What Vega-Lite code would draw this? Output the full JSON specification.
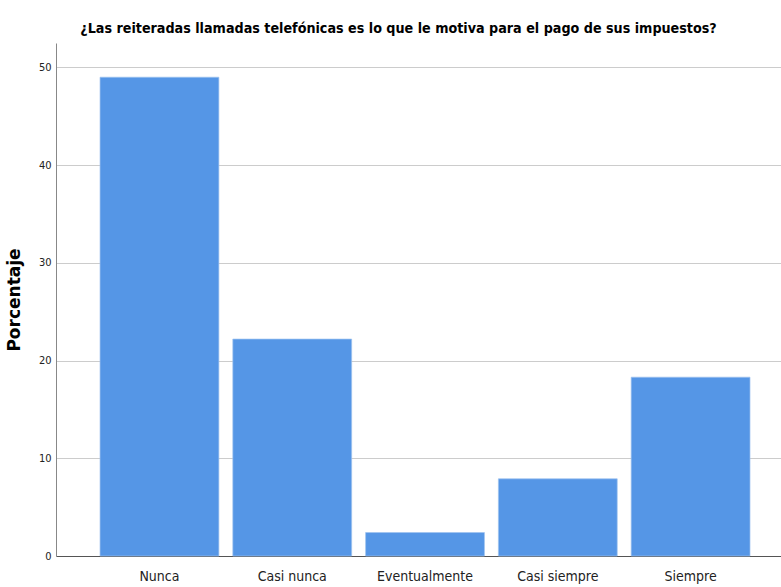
{
  "$schema": "https://vega.github.io/schema/vega-lite/v6.json",
  "width": 725,
  "height": 513,
  "autosize": "none",
  "padding": {"left": 56, "top": 43, "right": 0, "bottom": 31},
  "background": "white",
  "title": {
    "text": "¿Las reiteradas llamadas telefónicas es lo que le motiva para el pago de sus impuestos?",
    "font": "'DejaVu Sans Condensed', 'Liberation Sans', sans-serif",
    "fontSize": 14.2,
    "fontWeight": "bold",
    "color": "#000000",
    "anchor": "middle",
    "dx": -20,
    "offset": 7
  },
  "data": {
    "values": [
      {"categoria": "Nunca", "porcentaje": 49.0},
      {"categoria": "Casi nunca", "porcentaje": 22.2},
      {"categoria": "Eventualmente", "porcentaje": 2.4},
      {"categoria": "Casi siempre", "porcentaje": 7.9},
      {"categoria": "Siempre", "porcentaje": 18.3}
    ]
  },
  "mark": {"type": "bar", "color": "#5596e6", "stroke": "#9fc3ef", "strokeWidth": 0.7},
  "encoding": {
    "x": {
      "field": "categoria",
      "type": "nominal",
      "sort": null,
      "scale": {"paddingInner": 0.105, "paddingOuter": 0.2825, "align": 0.587},
      "axis": {
        "title": null,
        "labelAngle": 0,
        "labelFont": "'DejaVu Sans Condensed', 'Liberation Sans', sans-serif",
        "labelFontSize": 14,
        "labelColor": "#222222",
        "labelPadding": 13,
        "ticks": false,
        "domainColor": "#555555",
        "domainWidth": 1.2,
        "grid": false
      }
    },
    "y": {
      "field": "porcentaje",
      "type": "quantitative",
      "scale": {"domain": [0, 52.5], "nice": false},
      "axis": {
        "title": "Porcentaje",
        "titleFont": "'DejaVu Sans', sans-serif",
        "titleFontSize": 17,
        "titleFontWeight": "bold",
        "titleColor": "#000000",
        "titlePadding": 15,
        "values": [0, 10, 20, 30, 40, 50],
        "labelFont": "'DejaVu Sans Condensed', 'Liberation Sans', sans-serif",
        "labelFontSize": 11,
        "labelColor": "#222222",
        "labelPadding": 5,
        "ticks": false,
        "domainColor": "#888888",
        "grid": true,
        "gridColor": "#cccccc",
        "gridWidth": 1.2
      }
    }
  },
  "config": {"view": {"stroke": null}}
}
